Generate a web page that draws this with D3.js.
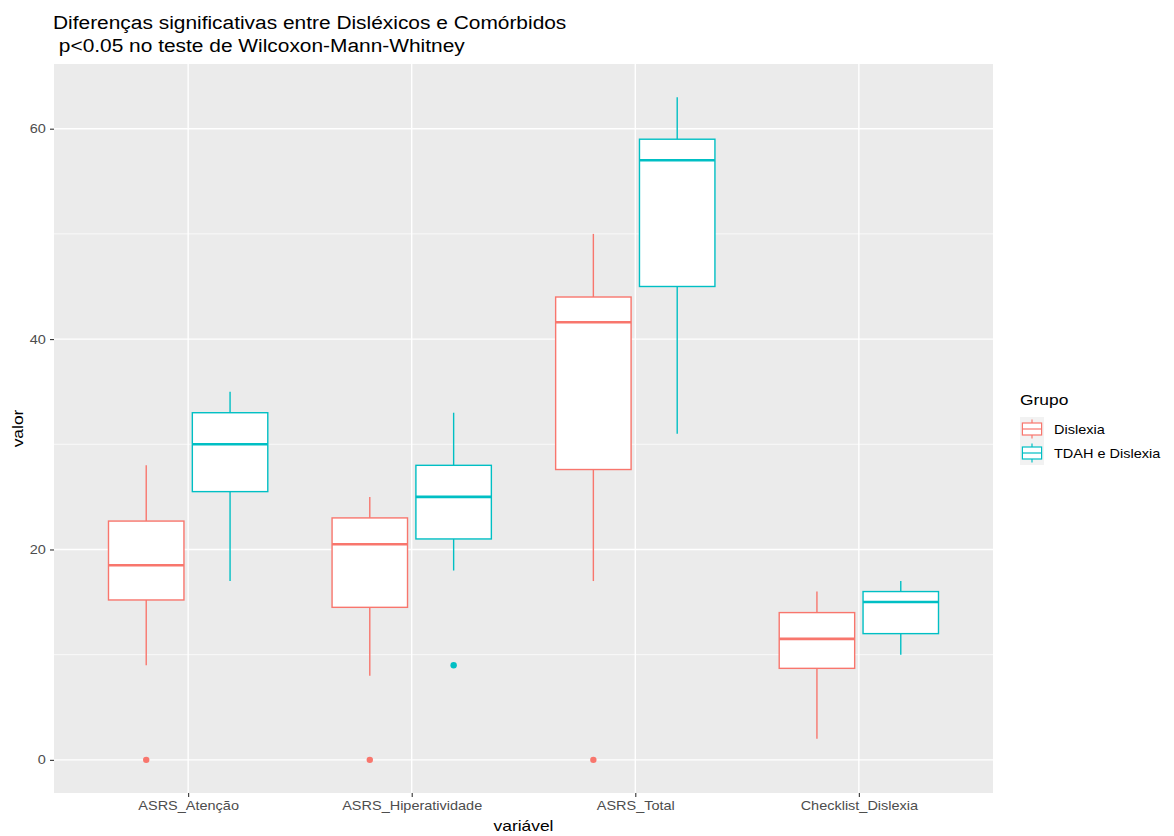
<!DOCTYPE html>
<html lang="pt">
<head>
<meta charset="UTF-8">
<title>Diferenças significativas</title>
<script src="https://d3js.org/d3.v7.min.js"></script>
<style>
  body { margin: 0; background: #fff; }
  text { font-family: "Liberation Sans", Arial, sans-serif; }
</style>
</head>
<body>
<svg width="1174" height="836"></svg>
<script>
    // data
    const categories = ["ASRS_Atenção", "ASRS_Hiperatividade", "ASRS_Total", "Checklist_Dislexia"];
    const groups = ["Dislexia", "TDAH e Dislexia"];
    const colors = ["#F8766D", "#00BFC4"];

    // per category: [whisker low, Q1, median, Q3, whisker high]
    const dislexiaStats = [
        [9, 15.2, 18.5, 22.7, 28],
        [8, 14.5, 20.5, 23, 25],
        [17, 27.6, 41.6, 44, 50],
        [2, 8.7, 11.5, 14, 16]
    ];
    const tdahStats = [
        [17, 25.5, 30, 33, 35],
        [18, 21, 25, 28, 33],
        [31, 45, 57, 59, 63],
        [10, 12, 15, 16, 17]
    ];
    const dislexiaOutliers = [[0], [0], [0], []];
    const tdahOutliers = [[], [9], [], []];

    const yTicks = [0, 20, 40, 60];
    const yMinor = [10, 30, 50];

    const svg = d3.select("svg"),
        margin = {top: 64, right: 181, bottom: 43, left: 54},
        width = 1174 - margin.left - margin.right,
        height = 836 - margin.top - margin.bottom,
        g = svg.append("g").attr("transform", `translate(${margin.left},${margin.top})`);

    // the reference text is a little wider than Liberation Sans
    const sx = 1.16;

    const rows = [];
    categories.forEach((c, i) => {
        [dislexiaStats, tdahStats].forEach((s, j) => {
            const st = s[i];
            rows.push({cat: c, grp: groups[j], lo: st[0], q1: st[1], med: st[2], q3: st[3], hi: st[4],
                out: (j === 0 ? dislexiaOutliers : tdahOutliers)[i], color: colors[j]});
        });
    });

    const x = d3.scalePoint().domain(categories).range([0, width]).padding(0.6);
    const step = x.step();
    const xg = d3.scalePoint().domain(groups).range([-0.1875 * step, 0.1875 * step]);
    const boxW = 0.3375 * step;

    const y = d3.scaleLinear().domain([-3.15, 66.15]).range([height, 0]);

    // panel
    g.append("rect").attr("width", width).attr("height", height).attr("fill", "#EBEBEB");

    g.selectAll(".minor").data(yMinor).join("line")
        .attr("x1", 0).attr("x2", width)
        .attr("y1", d => y(d)).attr("y2", d => y(d))
        .attr("stroke", "#fff").attr("stroke-width", 0.7);

    g.selectAll(".major").data(yTicks).join("line")
        .attr("x1", 0).attr("x2", width)
        .attr("y1", d => y(d)).attr("y2", d => y(d))
        .attr("stroke", "#fff").attr("stroke-width", 1.4);

    g.selectAll(".vmajor").data(categories).join("line")
        .attr("x1", d => x(d)).attr("x2", d => x(d))
        .attr("y1", 0).attr("y2", height)
        .attr("stroke", "#fff").attr("stroke-width", 1.4);

    // axes
    const yAxis = g.append("g")
        .call(d3.axisLeft(y).tickValues(yTicks).tickSize(4).tickPadding(3));
    const xAxis = g.append("g")
        .attr("transform", `translate(0,${height})`)
        .call(d3.axisBottom(x).tickSize(4).tickPadding(4));
    [xAxis, yAxis].forEach(a => {
        a.select(".domain").remove();
        a.selectAll(".tick line").attr("stroke", "#333").attr("stroke-width", 1.1);
        a.selectAll(".tick text").attr("fill", "#4D4D4D").style("font-size", "12.5px")
            .attr("transform", `scale(${sx},1)`);
    });

    // boxes
    const box = g.selectAll(".box").data(rows).join("g")
        .attr("transform", d => `translate(${x(d.cat) + xg(d.grp)},0)`);

    box.append("line")
        .attr("y1", d => y(d.hi)).attr("y2", d => y(d.q3))
        .attr("stroke", d => d.color).attr("stroke-width", 1.4);
    box.append("line")
        .attr("y1", d => y(d.q1)).attr("y2", d => y(d.lo))
        .attr("stroke", d => d.color).attr("stroke-width", 1.4);
    box.append("rect")
        .attr("x", -boxW / 2).attr("width", boxW)
        .attr("y", d => y(d.q3)).attr("height", d => y(d.q1) - y(d.q3))
        .attr("fill", "#fff").attr("stroke", d => d.color).attr("stroke-width", 1.4);
    box.append("line")
        .attr("x1", -boxW / 2).attr("x2", boxW / 2)
        .attr("y1", d => y(d.med)).attr("y2", d => y(d.med))
        .attr("stroke", d => d.color).attr("stroke-width", 2.6);
    box.selectAll("circle").data(d => d.out.map(v => ({v, color: d.color}))).join("circle")
        .attr("cy", d => y(d.v)).attr("r", 3.2).attr("fill", d => d.color);

    // titles
    svg.append("text").attr("transform", `translate(53,29) scale(1.1,1)`)
        .style("font-size", "19px").attr("fill", "#000")
        .text("Diferenças significativas entre Disléxicos e Comórbidos");
    svg.append("text").attr("transform", `translate(53,52) scale(1.1,1)`)
        .style("font-size", "19px").attr("fill", "#000").attr("xml:space", "preserve")
        .text(" p<0.05 no teste de Wilcoxon-Mann-Whitney");

    svg.append("text")
        .attr("transform", `translate(${margin.left + width / 2},831) scale(${sx},1)`)
        .attr("text-anchor", "middle").style("font-size", "15px")
        .text("variável");
    svg.append("text")
        .attr("transform", `translate(23,${margin.top + height / 2}) rotate(-90) scale(${sx},1)`)
        .attr("text-anchor", "middle").style("font-size", "15px")
        .text("valor");

    // legend
    const legend = svg.append("g").attr("transform", "translate(1020,388)");
    legend.append("text").attr("transform", `translate(0,17) scale(${sx},1)`)
        .style("font-size", "15px").text("Grupo");
    const keyS = 24;
    const item = legend.selectAll(".item").data(groups).join("g")
        .attr("transform", (d, i) => `translate(0,${29 + i * keyS})`);
    item.append("rect").attr("width", keyS).attr("height", keyS).attr("fill", "#F2F2F2");
    item.append("line").attr("x1", keyS / 2).attr("x2", keyS / 2)
        .attr("y1", keyS * 0.1).attr("y2", keyS * 0.9)
        .attr("stroke", (d, i) => colors[i]).attr("stroke-width", 1.2);
    item.append("rect").attr("x", keyS * 0.1).attr("width", keyS * 0.8)
        .attr("y", keyS * 0.25).attr("height", keyS * 0.5)
        .attr("fill", "#fff").attr("stroke", (d, i) => colors[i]).attr("stroke-width", 1.2);
    item.append("line").attr("x1", keyS * 0.1).attr("x2", keyS * 0.9)
        .attr("y1", keyS / 2).attr("y2", keyS / 2)
        .attr("stroke", (d, i) => colors[i]).attr("stroke-width", 1.2);
    item.append("text").attr("transform", `translate(${keyS + 10},${keyS / 2 + 4.5}) scale(${sx},1)`)
        .style("font-size", "12.5px").attr("fill", "#000").text(d => d);
</script>
</body>
</html>
